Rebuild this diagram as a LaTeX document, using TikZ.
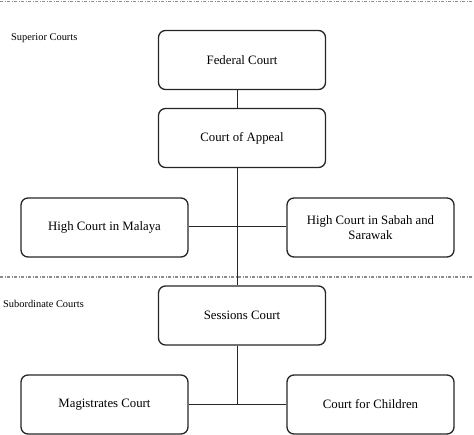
\documentclass[tikz,border=0pt]{standalone}
\usepackage{fontspec}
\setmainfont{Liberation Serif}
\begin{document}
\begin{tikzpicture}[x=1pt,y=-1pt,
  court/.style={draw=black!85, line width=1.3pt, rounded corners=7pt, minimum width=167pt, minimum height=59pt, align=center, font=\fontsize{12.8}{14.5}\selectfont, inner sep=2pt},
  link/.style={draw=black!85, line width=1pt},
  divider/.style={draw=black!45, line width=1.3pt, dash pattern=on 3pt off 1.5pt on 1pt off 1.5pt},
  tier/.style={anchor=west, font=\fontsize{10.4}{12}\selectfont, inner sep=0pt}]
\useasboundingbox (0,0) rectangle (474,435);
\draw[divider] (0,1.5) -- (474,1.5);
\draw[divider] (0,277) -- (474,277);
\node[tier] (sup) at (11,38) {Superior Courts};
\node[tier] (sub) at (3,304) {Subordinate Courts};
\node[court] (fed) at (242,60) {Federal Court};
\node[court] (app) at (242,138) {Court of Appeal};
\node[court] (hcm) at (104.5,227.5) {High Court in Malaya};
\node[court] (hcs) at (370.5,227.5) {High Court in Sabah and\\Sarawak};
\node[court] (ses) at (242,315.5) {Sessions Court};
\node[court] (mag) at (104.5,404.5) {Magistrates Court};
\node[court] (chi) at (370.5,404.5) {Court for Children};
\coordinate (j1) at (237,227);
\coordinate (j2) at (237,405);
\draw[link] (fed.south -| j1) -- (app.north -| j1);
\draw[link] (app.south -| j1) -- (ses.north -| j1);
\draw[link] (hcm.east |- j1) -- (hcs.west |- j1);
\draw[link] (ses.south -| j2) -- (j2);
\draw[link] (mag.east |- j2) -- (chi.west |- j2);
\end{tikzpicture}
\end{document}
